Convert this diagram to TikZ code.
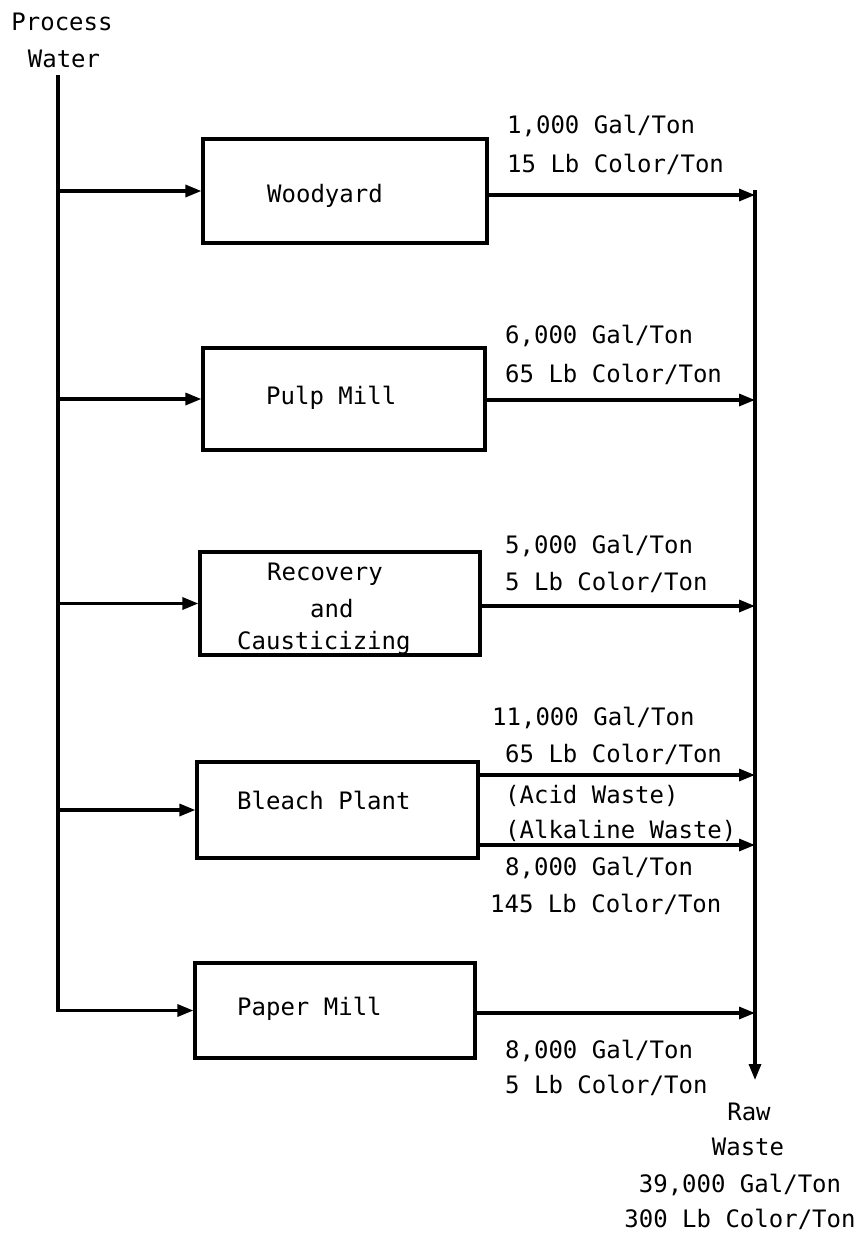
\documentclass[tikz,border=0pt]{standalone}
\usepackage{fontspec}
\setmainfont{DejaVu Sans Mono}
\usetikzlibrary{arrows.meta}

\tikzset{
    unit/.style={draw, line width=3.2pt, inner sep=0pt},
    flow/.style={line width=3.2pt, -{Triangle[length=16pt,width=12pt]}},
    txt/.style={font=\fontsize{24}{29}\selectfont, inner sep=0pt, anchor=base west},
}

\begin{document}
\begin{tikzpicture}[x=1pt, y=-1pt]
    \useasboundingbox (0,0) rectangle (867,1234);

    % Process water supply (left)
    \node[txt, anchor=base] (pwa) at (62,30) {Process};
    \node[txt, anchor=base] (pwb) at (64,67) {Water};
    \coordinate (supply) at (58,75);

    % Collector (right)
    \coordinate (collect) at (755,190);
    \coordinate (rawend) at (755,1080);

    % Units
    \node[unit, minimum width=284pt, minimum height=104pt] (wood)   at (345,191)    {};
    \node[unit, minimum width=282pt, minimum height=102pt] (pulp)   at (344,399)    {};
    \node[unit, minimum width=280pt, minimum height=103pt] (recov)  at (340,603.5)  {};
    \node[unit, minimum width=281pt, minimum height=96pt]  (bleach) at (337.5,810)  {};
    \node[unit, minimum width=280pt, minimum height=95pt]  (paper)  at (335,1010.5) {};

    \node[txt] (woodtxt)   at (267,202) {Woodyard};
    \node[txt] (pulptxt)   at (266,404) {Pulp Mill};
    \node[txt] (recovtxta) at (267,580) {Recovery};
    \node[txt] (recovtxtb) at (310,617) {and};
    \node[txt] (recovtxtc) at (237,649) {Causticizing};
    \node[txt] (bleachtxt) at (237,809) {Bleach Plant};
    \node[txt] (papertxt)  at (237,1015) {Paper Mill};

    % Water to units
    \draw[flow] (supply) |- (paper.west);
    \draw[flow] (supply |- wood.west) -- (wood.west);
    \draw[flow] (supply |- pulp.west) -- (pulp.west);
    \draw[flow] (supply |- recov.west) -- (recov.west);
    \draw[flow] (supply |- bleach.west) -- (bleach.west);

    % Waste streams
    \draw[flow] (wood.east |- 0,195) -- (collect |- 0,195);
    \draw[flow] (pulp.east |- 0,400) -- (collect |- 0,400);
    \draw[flow] (recov.east |- 0,606) -- (collect |- 0,606);
    \draw[flow] (bleach.east |- 0,775) -- (collect |- 0,775);
    \draw[flow] (bleach.east |- 0,845) -- (collect |- 0,845);
    \draw[flow] (paper.east |- 0,1013) -- (collect |- 0,1013);
    \draw[flow] (collect) -- (rawend);

    % Stream labels
    \node[txt] (woodgal)  at (507,133) {1,000 Gal/Ton};
    \node[txt] (woodcol)  at (507,172) {15 Lb Color/Ton};
    \node[txt] (pulpgal)  at (505,343) {6,000 Gal/Ton};
    \node[txt] (pulpcol)  at (505,382) {65 Lb Color/Ton};
    \node[txt] (recovgal) at (505,553) {5,000 Gal/Ton};
    \node[txt] (recovcol) at (505,590) {5 Lb Color/Ton};
    \node[txt] (acidgal)  at (492,725) {11,000 Gal/Ton};
    \node[txt] (acidcol)  at (505,762) {65 Lb Color/Ton};
    \node[txt] (acid)     at (505,803) {(Acid Waste)};
    \node[txt] (alka)     at (505,838) {(Alkaline Waste)};
    \node[txt] (alkagal)  at (505,875) {8,000 Gal/Ton};
    \node[txt] (alkacol)  at (490,912) {145 Lb Color/Ton};
    \node[txt] (papergal) at (505,1058) {8,000 Gal/Ton};
    \node[txt] (papercol) at (505,1093) {5 Lb Color/Ton};

    % Raw waste total
    \node[txt, anchor=base] (rawa) at (749,1120) {Raw};
    \node[txt, anchor=base] (rawb) at (748,1155) {Waste};
    \node[txt, anchor=base] (rawc) at (740,1192) {39,000 Gal/Ton};
    \node[txt, anchor=base] (rawd) at (740,1227) {300 Lb Color/Ton};
\end{tikzpicture}
\end{document}
